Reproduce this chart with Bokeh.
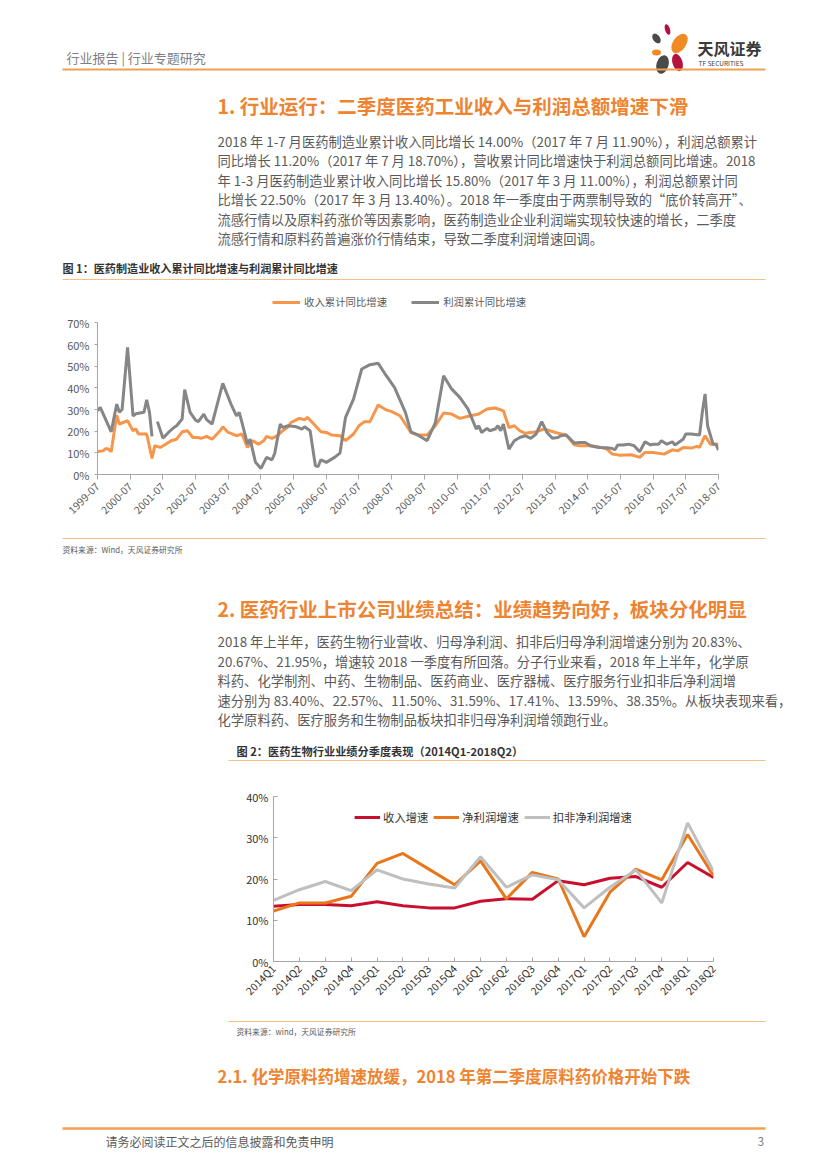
import math
import pandas as pd
from bokeh.plotting import figure
from bokeh.models import (Range1d, Legend, LegendItem, FixedTicker,
                          NumeralTickFormatter, DatetimeTickFormatter)
from bokeh.layouts import column
from bokeh.embed import file_html
from bokeh.resources import INLINE
from bokeh.core.properties import value

FONT = "Noto Sans CJK SC"
NAN = float("nan")
W = 811

# ---------------- Chart 1 data (monthly, cumulative YoY, %) ----------------
revenue_dates = [
    "1999-07", "1999-09", "1999-10", "1999-11", "1999-12", "2000-02", "2000-03", "2000-06",
    "2000-08", "2000-09", "2000-10", "2001-01", "2001-03", "2001-04", "2001-06", "2001-08",
    "2001-10", "2001-12", "2002-02", "2002-04", "2002-06", "2002-08", "2002-09", "2002-11",
    "2003-01", "2003-04", "2003-05", "2003-07", "2003-10", "2003-12", "2004-02", "2004-04",
    "2004-06", "2004-08", "2004-09", "2004-11", "2005-01", "2005-03", "2005-05", "2005-06",
    "2005-09", "2005-11", "2005-12", "2006-03", "2006-05", "2006-07", "2006-09", "2006-12",
    "2007-02", "2007-05", "2007-07", "2007-09", "2007-11", "2008-02", "2008-05", "2008-07",
    "2008-10", "2009-02", "2009-05", "2009-08", "2009-11", "2010-02", "2010-05", "2010-08",
    "2010-12", "2011-03", "2011-06", "2011-09", "2011-12", "2012-02", "2012-04", "2012-06",
    "2012-08", "2012-10", "2012-12", "2013-03", "2013-05", "2013-08", "2013-11", "2014-02",
    "2014-04", "2014-08", "2014-12", "2015-02", "2015-04", "2015-07", "2015-11", "2016-02",
    "2016-04", "2016-07", "2016-11", "2017-02", "2017-04", "2017-06", "2017-09", "2017-11",
    "2017-12", "2018-02", "2018-04", "2018-07"]
revenue_pct = [
    10.6, 10.9, 12.0, 11.7, 10.5, 27.4, 23.3, 24.8,
    20.2, 21.0, 18.7, 18.7, 7.4, 13.3, 12.5, 14.0,
    15.6, 16.3, 19.7, 20.2, 17.1, 17.1, 16.7, 17.6,
    16.3, 20.2, 22.0, 19.4, 17.9, 18.7, 12.5, 15.6,
    14.0, 15.6, 17.6, 16.7, 17.9, 20.2, 22.0, 24.0,
    25.9, 25.3, 26.4, 22.5, 19.7, 19.4, 18.2, 17.9,
    15.6, 18.7, 22.5, 24.4, 24.4, 32.1, 29.8, 29.0,
    27.1, 19.4, 18.2, 18.2, 22.5, 28.4, 27.9, 25.9,
    27.1, 27.9, 30.2, 30.7, 29.4, 21.7, 22.5, 20.2,
    19.0, 19.4, 19.7, 21.0, 20.2, 19.1, 18.2, 13.7,
    13.3, 13.3, 12.5, 11.7, 9.4, 8.9, 9.1, 7.9,
    10.2, 10.2, 9.4, 11.4, 10.9, 12.5, 12.2, 13.0,
    12.5, 17.9, 14.0, 14.0]

profit_dates = [
    "1999-07", "1999-08", "1999-12", "2000-02", "2000-03", "2000-04", "2000-06", "2000-08",
    "2000-09", "2000-12", "2001-01", "2001-02", "2001-03", "2001-04", "2001-05", "2001-07",
    "2001-09", "2001-11", "2001-12", "2002-02", "2002-03", "2002-05", "2002-07", "2002-08",
    "2002-10", "2002-11", "2003-01", "2003-05", "2003-08", "2003-10", "2003-11", "2003-12",
    "2004-02", "2004-03", "2004-05", "2004-07", "2004-09", "2004-11", "2004-12", "2005-02",
    "2005-03", "2005-05", "2005-08", "2005-10", "2005-11", "2006-01", "2006-03", "2006-04",
    "2006-05", "2006-07", "2006-10", "2006-12", "2007-02", "2007-05", "2007-08", "2007-11",
    "2008-02", "2008-05", "2008-08", "2008-12", "2009-02", "2009-05", "2009-08", "2009-11",
    "2010-02", "2010-05", "2010-08", "2010-11", "2011-02", "2011-03", "2011-04", "2011-06",
    "2011-07", "2011-09", "2011-10", "2011-11", "2011-12", "2012-02", "2012-04", "2012-06",
    "2012-08", "2012-10", "2012-12", "2013-02", "2013-04", "2013-06", "2013-08", "2013-09",
    "2013-11", "2013-12", "2014-02", "2014-04", "2014-06", "2014-08", "2014-11", "2015-02",
    "2015-04", "2015-05", "2015-06", "2015-08", "2015-10", "2015-12", "2016-02", "2016-04",
    "2016-06", "2016-07", "2016-09", "2016-10", "2016-12", "2017-02", "2017-03", "2017-06",
    "2017-07", "2017-09", "2017-12", "2018-01", "2018-02", "2018-03", "2018-05", "2018-06",
    "2018-07"]
profit_pct = [
    29.4, 31.0, 19.7, 32.5, 28.7, 30.0, 58.7, 27.0,
    28.0, 28.7, 34.5, 28.7, 17.6, NAN, 24.4, 16.8,
    19.4, 21.7, 22.5, 25.6, 39.2, 28.7, 25.1, 24.4,
    27.9, 25.3, 23.3, 42.1, 32.5, 27.1, 28.7, 24.1,
    14.0, 16.3, 5.6, 2.8, 7.9, 6.8, 9.7, 23.3,
    21.7, 22.5, 22.0, 21.0, 22.0, 20.2, 4.0, 3.7,
    6.8, 5.6, 7.9, 9.9, 26.4, 34.8, 48.7, 50.7,
    51.3, 45.6, 40.2, 28.7, 19.7, 17.9, 15.6, 24.0,
    45.6, 39.5, 35.6, 30.2, 21.0, 22.5, 19.4, 21.3,
    20.2, 21.0, 22.5, 20.2, 23.3, 11.7, 15.6, 17.1,
    17.9, 16.7, 18.7, 24.4, 19.4, 16.7, 17.1, 17.9,
    18.2, 17.1, 14.5, 14.8, 14.8, 13.3, 12.5, 12.3,
    12.0, 11.4, 13.6, 13.6, 14.0, 13.3, 10.5, 15.1,
    13.6, 14.0, 14.0, 15.6, 14.0, 15.1, 13.6, 16.3,
    18.7, 18.7, 18.2, 28.7, 37.2, 22.5, 14.0, 14.0,
    11.3]

chart1_tick_years = list(range(1999, 2019))

# ---------------- Chart 2 data (quarterly YoY, %) ----------------
quarters = ["2014Q1", "2014Q2", "2014Q3", "2014Q4", "2015Q1", "2015Q2", "2015Q3", "2015Q4",
            "2016Q1", "2016Q2", "2016Q3", "2016Q4", "2017Q1", "2017Q2", "2017Q3", "2017Q4",
            "2018Q1", "2018Q2"]
revenue_growth_q = [13.4, 13.8, 13.8, 13.5, 14.5, 13.5, 13.0, 13.0, 14.6, 15.2, 15.1, 19.6,
                    18.6, 20.2, 20.6, 18.0, 24.0, 20.4]
net_profit_growth_q = [12.2, 14.2, 14.2, 15.8, 23.8, 26.2, 22.4, 18.6, 24.4, 15.2, 21.6, 20.0,
                       6.0, 16.8, 22.4, 19.8, 30.8, 20.8]
deducted_profit_growth_q = [14.8, 17.4, 19.4, 17.2, 22.2, 20.0, 18.8, 17.8, 25.4, 18.0, 21.0,
                            19.8, 13.0, 18.0, 22.2, 14.2, 33.6, 21.8]

# ---------------- page texts ----------------
header_text = "行业报告  |  行业专题研究"
title1 = "1. 行业运行：二季度医药工业收入与利润总额增速下滑"
para1 = [
    "2018 年 1-7 月医药制造业累计收入同比增长 14.00%（2017 年 7 月 11.90%），利润总额累计",
    "同比增长 11.20%（2017 年 7 月 18.70%），营收累计同比增速快于利润总额同比增速。2018",
    "年 1-3 月医药制造业累计收入同比增长 15.80%（2017 年 3 月 11.00%），利润总额累计同",
    "比增长 22.50%（2017 年 3 月 13.40%）。2018 年一季度由于两票制导致的“底价转高开”、",
    "流感行情以及原料药涨价等因素影响，医药制造业企业利润端实现较快速的增长，二季度",
    "流感行情和原料药普遍涨价行情结束，导致二季度利润增速回调。",
]
caption1 = "图 1：医药制造业收入累计同比增速与利润累计同比增速"
source1 = "资料来源：Wind，天风证券研究所"
title2 = "2. 医药行业上市公司业绩总结：业绩趋势向好，板块分化明显"
para2 = [
    "2018 年上半年，医药生物行业营收、归母净利润、扣非后归母净利润增速分别为 20.83%、",
    "20.67%、21.95%，增速较 2018 一季度有所回落。分子行业来看，2018 年上半年，化学原",
    "料药、化学制剂、中药、生物制品、医药商业、医疗器械、医疗服务行业扣非后净利润增",
    "速分别为 83.40%、22.57%、11.50%、31.59%、17.41%、13.59%、38.35%。从板块表现来看，",
    "化学原料药、医疗服务和生物制品板块扣非归母净利润增领跑行业。",
]
caption2 = "图 2：医药生物行业业绩分季度表现（2014Q1-2018Q2）"
source2 = "资料来源：wind，天风证券研究所"
title21 = "2.1. 化学原料药增速放缓，2018 年第二季度原料药价格开始下跌"
footer_text = "请务必阅读正文之后的信息披露和免责申明"
page_no = "3"

ORANGE_T = "#EE8330"
ORANGE_L = "#F0A050"
CAP_LINE = "#F5BE8A"
BODY = "#5A5A5A"


def page_fig(y0, y1):
    p = figure(width=W, height=y1 - y0, x_range=Range1d(0, W),
               y_range=Range1d(y1, y0), output_backend="svg",
               toolbar_location=None, min_border=0,
               x_axis_location=None, y_axis_location=None)
    p.frame_align = False
    p.grid.visible = False
    p.outline_line_color = None
    p.background_fill_color = "white"
    p.border_fill_color = "white"
    return p


def txt(p, x, y, s, size, color, bold=False, align="left"):
    p.text(x=[x], y=[y], text=[s], text_font=value(FONT),
           text_font_size=f"{size}px", text_color=color,
           text_font_style="bold" if bold else "normal",
           text_align=align, text_baseline="middle")


def hline(p, x0, x1, y, color, w):
    p.segment(x0=[x0], y0=[y], x1=[x1], y1=[y], line_color=color, line_width=w)


# ---------------- Block A: header, section 1 ----------------
A = page_fig(0, 285)
txt(A, 66, 57, header_text, 13, "#7F7F7F")
# logo
A.ellipse(x=[667], y=[29], width=[5], height=[11], angle=[0.3], fill_color="#B5123E", line_color=None)
A.ellipse(x=[679], y=[43], width=[13], height=[22], angle=[-0.6], fill_color="#F08A24", line_color=None)
A.ellipse(x=[656], y=[38], width=[7], height=[11], angle=[0.6], fill_color="#4A4A4A", line_color=None)
A.ellipse(x=[656], y=[52], width=[9], height=[6], angle=[0.0], fill_color="#F08A24", line_color=None)
A.ellipse(x=[677], y=[62], width=[10], height=[18], angle=[0.3], fill_color="#B5123E", line_color=None)
A.ellipse(x=[662], y=[64], width=[12], height=[19], angle=[-0.3], fill_color="#4A4A4A", line_color=None)
txt(A, 697, 47, "天风证券", 16, "#3A3A3A", bold=True)
txt(A, 698, 62, "TF SECURITIES", 6.5, "#3A3A3A")
hline(A, 62, 765, 69, ORANGE_L, 2)
txt(A, 217, 105, title1, 19.5, ORANGE_T, bold=True)
for i, s in enumerate(para1):
    txt(A, 217, 141 + 19.4 * i, s, 13.3, BODY)
txt(A, 62, 267, caption1, 11.1, "#333333", bold=True)
hline(A, 62, 765, 279, CAP_LINE, 1)

# ---------------- Chart 1 ----------------
x0 = pd.Timestamp("1999-07-01").value / 1e6
x1 = pd.Timestamp("2018-07-01").value / 1e6
c1 = figure(width=W, height=245, x_axis_type="datetime",
            x_range=Range1d(x0, x1), y_range=Range1d(0, 0.84),
            min_border_left=97, min_border_right=93, min_border_top=7,
            min_border_bottom=56, output_backend="svg", toolbar_location=None)
c1.frame_align = False
c1.grid.visible = False
c1.outline_line_color = None
r_rev = c1.line(pd.to_datetime(revenue_dates), [v / 100 for v in revenue_pct],
                line_color="#F7964A", line_width=3)
r_pro = c1.line(pd.to_datetime(profit_dates), [v / 100 for v in profit_pct],
                line_color="#868686", line_width=3)
c1.xaxis.ticker = FixedTicker(ticks=[pd.Timestamp(f"{y}-07-01").value / 1e6 for y in chart1_tick_years])
fmt = "%Y-%m"
c1.xaxis.formatter = DatetimeTickFormatter(microseconds=fmt, milliseconds=fmt, seconds=fmt,
                                           minsec=fmt, minutes=fmt, hourmin=fmt, hours=fmt,
                                           days=fmt, months=fmt, years=fmt)
c1.xaxis.major_label_orientation = math.pi / 4
c1.yaxis.ticker = FixedTicker(ticks=[0, 0.1, 0.2, 0.3, 0.4, 0.5, 0.6, 0.7])
c1.yaxis.formatter = NumeralTickFormatter(format="0%")
c1.yaxis.bounds = (0, 0.7)
for ax in (c1.xaxis, c1.yaxis):
    ax.axis_line_color = "#A6A6A6"
    ax.major_tick_line_color = "#A6A6A6"
    ax.minor_tick_line_color = None
    ax.major_label_text_font = FONT
    ax.major_label_text_color = "#595959"
c1.xaxis.major_tick_in = 0
c1.xaxis.major_tick_out = 5
c1.yaxis.major_tick_in = 0
c1.yaxis.major_tick_out = 3
c1.xaxis.major_label_text_font_size = "10.5px"
c1.yaxis.major_label_text_font_size = "11px"
leg1 = Legend(items=[LegendItem(label="收入累计同比增速", renderers=[r_rev]),
                     LegendItem(label="利润累计同比增速", renderers=[r_pro])],
              orientation="horizontal", location=(175, 165),
              border_line_color=None, background_fill_alpha=0,
              label_text_font=FONT, label_text_font_size="10.4px",
              label_text_color="#595959", glyph_width=28, glyph_height=14,
              label_height=14, label_standoff=4, spacing=24, padding=0, margin=0)
c1.add_layout(leg1)

# ---------------- Block B: source 1, section 2 ----------------
B = page_fig(530, 775)
hline(B, 62, 765, 538, CAP_LINE, 1)
txt(B, 62, 549, source1, 7.8, BODY)
txt(B, 217, 608, title2, 19.5, ORANGE_T, bold=True)
for i, s in enumerate(para2):
    txt(B, 217, 641 + 19.5 * i, s, 13.3, BODY)
txt(B, 236, 750, caption2, 11.2, "#333333", bold=True)
hline(B, 228, 765, 760, CAP_LINE, 1)

# ---------------- Chart 2 ----------------
xs = list(range(len(quarters)))
c2 = figure(width=W, height=240, x_range=Range1d(0, len(quarters) - 1),
            y_range=Range1d(0, 0.4),
            min_border_left=273, min_border_right=98, min_border_top=21,
            min_border_bottom=54, output_backend="svg", toolbar_location=None)
c2.frame_align = False
c2.grid.visible = False
c2.outline_line_color = None
r1 = c2.line(xs, [v / 100 for v in revenue_growth_q], line_color="#C8102E", line_width=3)
r2 = c2.line(xs, [v / 100 for v in net_profit_growth_q], line_color="#E8761B", line_width=3)
r3 = c2.line(xs, [v / 100 for v in deducted_profit_growth_q], line_color="#BFBFBF", line_width=3)
c2.xaxis.ticker = FixedTicker(ticks=xs)
c2.xaxis.major_label_overrides = {i: q for i, q in enumerate(quarters)}
c2.xaxis.major_label_orientation = math.pi / 4
c2.yaxis.ticker = FixedTicker(ticks=[0, 0.1, 0.2, 0.3, 0.4])
c2.yaxis.formatter = NumeralTickFormatter(format="0%")
for ax in (c2.xaxis, c2.yaxis):
    ax.axis_line_color = "#A6A6A6"
    ax.major_tick_line_color = "#A6A6A6"
    ax.minor_tick_line_color = None
    ax.major_label_text_font = FONT
    ax.major_label_text_color = "#333333"
    ax.major_tick_in = 4
    ax.major_tick_out = 0
c2.xaxis.major_label_text_font_size = "10.5px"
c2.yaxis.major_label_text_font_size = "11px"
leg2 = Legend(items=[LegendItem(label="收入增速", renderers=[r1]),
                     LegendItem(label="净利润增速", renderers=[r2]),
                     LegendItem(label="扣非净利润增速", renderers=[r3])],
              orientation="horizontal", location="top_center",
              border_line_color=None, background_fill_alpha=0,
              label_text_font=FONT, label_text_font_size="11.3px",
              label_text_color="#333333", glyph_width=26, glyph_height=14,
              label_height=14, label_standoff=3, spacing=5, padding=0, margin=13)
c2.add_layout(leg2)

# ---------------- Block C: source 2, section 2.1, footer ----------------
C = page_fig(1015, 1153)
hline(C, 228, 765, 1021, CAP_LINE, 1)
txt(C, 236, 1031, source2, 7.8, BODY)
txt(C, 217, 1075, title21, 16.5, ORANGE_T, bold=True)
hline(C, 62, 765, 1128, ORANGE_L, 2.5)
txt(C, 105, 1141, footer_text, 12, BODY)
txt(C, 757, 1141, page_no, 12, "#7F7F7F")

page = column(A, c1, B, c2, C, spacing=0)
open("out.html", "w").write(file_html(page, INLINE))
